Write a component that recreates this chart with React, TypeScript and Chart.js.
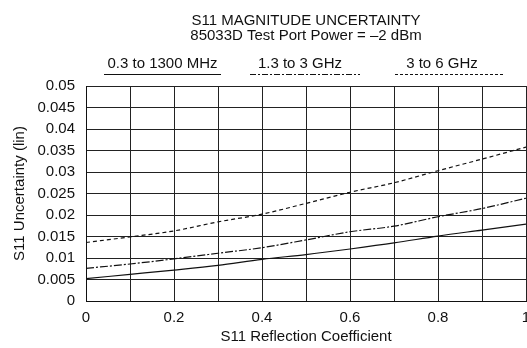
import React, { useEffect, useRef } from "react";
import { Chart, registerables } from "chart.js";

Chart.register(...registerables);

const FONT = "'Liberation Sans', Arial, Helvetica, sans-serif";

const titleLines = ["S11 MAGNITUDE UNCERTAINTY", "85033D Test Port Power = \u20132 dBm"];
const seriesLabels = ["0.3 to 1300 MHz", "1.3 to 3 GHz", "3 to 6 GHz"];

const xValues = [0, 0.1, 0.2, 0.3, 0.4, 0.5, 0.6, 0.7, 0.8, 0.9, 1.0];
const lowBand = [0.0052, 0.0062, 0.0072, 0.0083, 0.0097, 0.0108, 0.0121, 0.0135, 0.0151, 0.0165, 0.0179];
const midBand = [0.0076, 0.0086, 0.0098, 0.0111, 0.0124, 0.0142, 0.0161, 0.0174, 0.0196, 0.0215, 0.0239];
const highBand = [0.0136, 0.0149, 0.0163, 0.0184, 0.0202, 0.0227, 0.0253, 0.0275, 0.0303, 0.0330, 0.0358];

const xTickLabels = ["0", "", "0.2", "", "0.4", "", "0.6", "", "0.8", "", "1"];
const yTickLabels = ["0", "0.005", "0.01", "0.015", "0.02", "0.025", "0.03", "0.035", "0.04", "0.045", "0.05"];

const xTitle = "S11 Reflection Coefficient";
const yTitle = "S11 Uncertainty (lin)";

const dashes: number[][] = [[], [8, 2, 2, 2], [4, 3]];
const legendDashes: number[][] = [[], [6, 2, 2, 2], [3, 2]];

const FS = 15;

const headerPlugin = {
  id: "header",
  afterDraw(chart: any) {
    const { ctx, chartArea } = chart;
    const cx = (chartArea.left + chartArea.right) / 2;
    ctx.save();
    ctx.fillStyle = "#111";
    ctx.textAlign = "center";
    ctx.textBaseline = "alphabetic";
    ctx.font = `${FS}px ${FONT}`;
    ctx.fillText(titleLines[0], cx, 25);
    ctx.fillText(titleLines[1], cx, 40);
    const layout = [
      { t: 162.5, s: 104, e: 221 },
      { t: 300, s: 250, e: 360 },
      { t: 442, s: 395, e: 503 },
    ];
    seriesLabels.forEach((lab, i) => {
      const L = layout[i];
      ctx.fillText(lab, L.t, 68);
      ctx.beginPath();
      ctx.setLineDash(legendDashes[i]);
      ctx.lineWidth = 1.2;
      ctx.strokeStyle = "#111";
      ctx.moveTo(L.s, 74.5);
      ctx.lineTo(L.e, 74.5);
      ctx.stroke();
    });
    ctx.restore();
  },
};

export default function App() {
  const ref = useRef<HTMLCanvasElement>(null);
  useEffect(() => {
    if (!ref.current) return;
    const data = [lowBand, midBand, highBand];
    const chart = new Chart(ref.current, {
      type: "line",
      data: {
        labels: xValues,
        datasets: data.map((d, i) => ({
          label: seriesLabels[i],
          data: d.map((v, j) => ({ x: xValues[j], y: v })),
          borderColor: "#111",
          borderWidth: 1.2,
          borderDash: dashes[i],
          pointRadius: 0,
          fill: false,
          cubicInterpolationMode: "monotone" as const,
        })),
      },
      options: {
        animation: false,
        responsive: true,
        maintainAspectRatio: false,
        layout: { padding: { top: 86, right: 1, left: 0, bottom: 0 } },
        plugins: { legend: { display: false }, title: { display: false }, tooltip: { enabled: false } },
        scales: {
          x: {
            type: "linear",
            min: 0,
            max: 1,
            ticks: {
              stepSize: 0.1,
              color: "#111",
              padding: 8,
              maxRotation: 0,
              autoSkip: false,
              font: { family: FONT, size: FS },
              callback: (_v: any, i: number) => xTickLabels[i] ?? "",
            },
            grid: { color: "#222", lineWidth: 1, drawTicks: false },
            border: { color: "#111", width: 1 },
            title: { display: true, text: xTitle, color: "#111", font: { family: FONT, size: FS }, padding: { top: 0, bottom: 2 } },
            afterFit: (s: any) => {
              s.height = 47;
              s.paddingRight = 0;
              s.paddingLeft = 0;
            },
          },
          y: {
            type: "linear",
            min: 0,
            max: 0.05,
            ticks: {
              stepSize: 0.005,
              color: "#111",
              padding: 11,
              autoSkip: false,
              font: { family: FONT, size: FS },
              callback: (_v: any, i: number) => yTickLabels[i] ?? "",
            },
            grid: { color: "#222", lineWidth: 1, drawTicks: false },
            border: { color: "#111", width: 1 },
            title: { display: true, text: yTitle, color: "#111", font: { family: FONT, size: FS }, padding: { top: 11, bottom: 0 } },
            afterFit: (s: any) => {
              s.width = 86;
              s.paddingTop = 0;
              s.paddingBottom = 0;
            },
          },
        },
      },
      plugins: [headerPlugin],
    });
    return () => chart.destroy();
  }, []);
  return (
    <div style={{ position: "fixed", left: 0, top: 0, width: 527, height: 348, background: "#fff" }}>
      <canvas ref={ref} />
    </div>
  );
}
